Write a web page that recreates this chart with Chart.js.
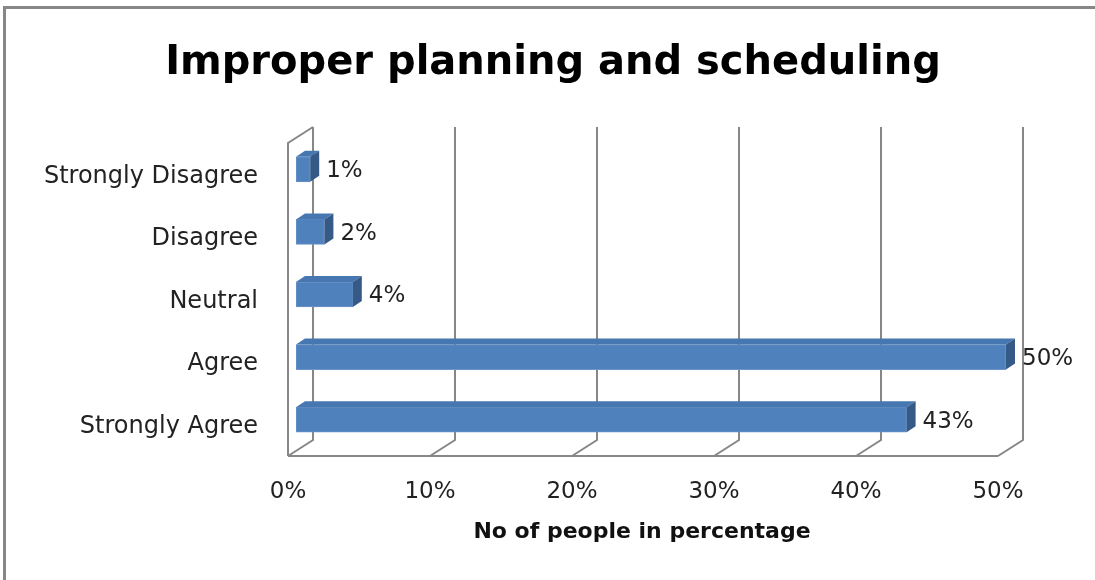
<!DOCTYPE html>
<html>
<head>
<meta charset="utf-8">
<script src="https://cdn.jsdelivr.net/npm/chart.js@4.4.0/dist/chart.umd.min.js"></script>
<style>
  html, body { margin: 0; padding: 0; background: #fff; }
</style>
</head>
<body>
<canvas id="myChart" width="1095" height="580"></canvas>
<script>
// data
const categories = ['Strongly Disagree', 'Disagree', 'Neutral', 'Agree', 'Strongly Agree'];
const percentValues = [1, 2, 4, 50, 43];
const tickValues = [0, 10, 20, 30, 40, 50];
const chartTitle = 'Improper planning and scheduling';
const axisTitle = 'No of people in percentage';

Chart.defaults.font.family = "'DejaVu Sans', sans-serif";
Chart.defaults.color = '#222';

// fake 3d: walls/floor behind the bars, then top + side faces on each bar
const BACK = { dx: 17, dy: -11 };
const FRONT = { dx: -8, dy: 5 };
const BAR_DEPTH = { dx: 9, dy: -6 };

const depth3d = {
  id: 'depth3d',
  beforeDraw(chart) {
    const ctx = chart.ctx;
    ctx.save();
    ctx.fillStyle = '#fff';
    ctx.fillRect(0, 0, chart.width, chart.height);
    // frame
    ctx.strokeStyle = '#878787';
    ctx.lineWidth = 3;
    ctx.strokeRect(4.5, 7.5, chart.width + 20, chart.height + 20);
    // title
    ctx.fillStyle = '#000';
    ctx.font = "bold 40px 'DejaVu Sans'";
    ctx.textAlign = 'center';
    ctx.textBaseline = 'alphabetic';
    ctx.fillText(chartTitle, 553, 74);
    // x axis title
    ctx.fillStyle = '#111';
    ctx.font = "bold 22px 'DejaVu Sans'";
    ctx.fillText(axisTitle, 642, 538);
    ctx.restore();
  },
  beforeDatasetsDraw(chart) {
    const { ctx, chartArea: a, scales: { x } } = chart;
    const x0 = x.getPixelForValue(tickValues[0]);
    const x1 = x.getPixelForValue(tickValues[tickValues.length - 1]);
    ctx.save();
    ctx.strokeStyle = '#878787';
    ctx.lineWidth = 2;
    ctx.beginPath();
    tickValues.forEach(v => {
      const px = x.getPixelForValue(v);
      ctx.moveTo(px + BACK.dx, a.top + BACK.dy);
      ctx.lineTo(px + BACK.dx, a.bottom + BACK.dy);
      ctx.lineTo(px + FRONT.dx, a.bottom + FRONT.dy);
    });
    ctx.moveTo(x0 + FRONT.dx, a.bottom + FRONT.dy);
    ctx.lineTo(x1 + FRONT.dx, a.bottom + FRONT.dy);
    ctx.moveTo(x0 + FRONT.dx, a.bottom + FRONT.dy);
    ctx.lineTo(x0 + FRONT.dx, a.top + FRONT.dy);
    ctx.lineTo(x0 + BACK.dx, a.top + BACK.dy);
    ctx.stroke();
    ctx.restore();
  },
  afterDatasetsDraw(chart) {
    const ctx = chart.ctx;
    const meta = chart.getDatasetMeta(0);
    ctx.save();
    meta.data.forEach((bar, i) => {
      const { x, y, base, height } = bar.getProps(['x', 'y', 'base', 'height'], true);
      const top = y - height / 2, bottom = y + height / 2;
      const dx = BAR_DEPTH.dx, dy = BAR_DEPTH.dy;
      // top face
      ctx.fillStyle = '#4777b0';
      ctx.beginPath();
      ctx.moveTo(base, top);
      ctx.lineTo(x, top);
      ctx.lineTo(x + dx, top + dy);
      ctx.lineTo(base + dx, top + dy);
      ctx.closePath();
      ctx.fill();
      // right face
      ctx.fillStyle = '#365a88';
      ctx.beginPath();
      ctx.moveTo(x, top);
      ctx.lineTo(x + dx, top + dy);
      ctx.lineTo(x + dx, bottom + dy);
      ctx.lineTo(x, bottom);
      ctx.closePath();
      ctx.fill();
      // value label
      ctx.fillStyle = '#222';
      ctx.font = "23px 'DejaVu Sans'";
      ctx.textAlign = 'left';
      ctx.textBaseline = 'middle';
      ctx.fillText(percentValues[i] + '%', x + 16, y + 2);
    });
    ctx.restore();
  }
};

const data = {
  labels: categories,
  datasets: [{
    data: percentValues,
    backgroundColor: '#4f81bd',
    borderColor: '#6a95c9',
    borderWidth: 1,
    borderSkipped: false,
    barThickness: 25
  }]
};

const config = {
  type: 'bar',
  data,
  options: {
    responsive: false,
    animation: false,
    indexAxis: 'y',
    layout: {
      padding: { top: 138, right: 89, left: 0, bottom: 0 }
    },
    plugins: {
      legend: { display: false },
      title: { display: false },
      tooltip: { enabled: false }
    },
    scales: {
      x: {
        min: 0,
        max: 50,
        afterBuildTicks: scale => { scale.ticks = tickValues.map(v => ({ value: v })); },
        afterFit: scale => { scale.height = 129; },
        grid: { display: false, drawTicks: false },
        border: { display: false },
        ticks: {
          padding: 27,
          labelOffset: -8,
          font: { size: 23 },
          callback: value => value + '%'
        }
      },
      y: {
        afterFit: scale => { scale.width = 296; },
        grid: { display: false, drawTicks: false },
        border: { display: false },
        ticks: {
          padding: 38,
          labelOffset: 7,
          autoSkip: false,
          font: { size: 24 }
        }
      }
    }
  },
  plugins: [depth3d]
};

const myChart = new Chart(document.getElementById('myChart'), config);
</script>
</body>
</html>
